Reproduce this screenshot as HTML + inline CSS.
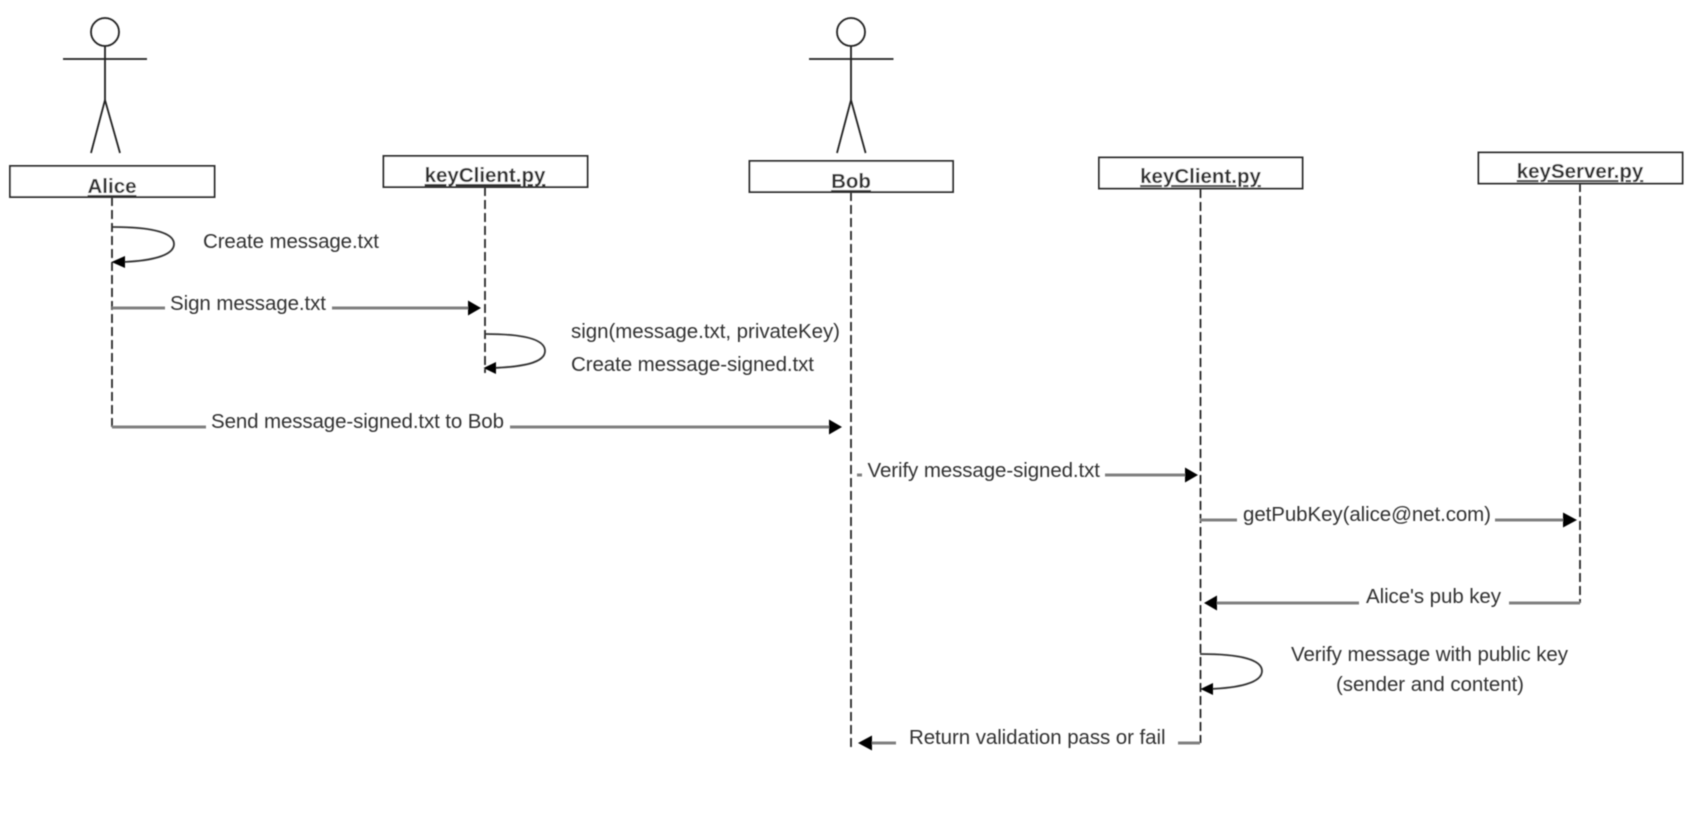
<!DOCTYPE html>
<html>
<head>
<meta charset="utf-8">
<style>
html,body{margin:0;padding:0;background:#fff;width:1705px;height:817px;overflow:hidden}
svg{display:block}
text{font-family:"Liberation Sans",sans-serif;font-size:20.5px;fill:#333}
.b{font-weight:bold;text-decoration:underline;text-anchor:middle;font-size:20.5px}
.act{fill:none;stroke:#222;stroke-width:1.8}
.box{fill:#fff;stroke:#333;stroke-width:2}
.life{stroke:#111;stroke-width:1.6;stroke-dasharray:9 4;fill:none}
.msg{stroke:#808080;stroke-width:3;fill:none}
.loop{stroke:#333;stroke-width:1.8;fill:none}
</style>
</head>
<body>
<svg width="1705" height="817" viewBox="0 0 1705 817" xmlns="http://www.w3.org/2000/svg">
<defs><filter id="s" x="-2%" y="-2%" width="104%" height="104%"><feGaussianBlur stdDeviation="0.45"/></filter></defs>
<rect width="1705" height="817" fill="#fff"/>
<g filter="url(#s)">
<!-- actors -->
<g class="act">
<circle cx="105" cy="32" r="14"/><path d="M105 46V100M63 59H147M105 100L91 153M105 100L120 153"/>
<circle cx="851" cy="32" r="14"/><path d="M851 46V100M809 59H893.500M851 100L837 153M851 100L865.600 153"/>
</g>
<!-- lifelines -->
<path class="life" d="M112 197V428"/>
<path class="life" d="M485 187V373"/>
<path class="life" d="M851 192V747"/>
<path class="life" d="M1200.500 189V743"/>
<path class="life" d="M1580 183V603"/>
<!-- boxes -->
<rect class="box" x="10" y="166" width="204.500" height="31"/>
<rect class="box" x="383.500" y="156" width="204" height="31"/>
<rect class="box" x="749.500" y="161" width="203.500" height="31"/>
<rect class="box" x="1099" y="157.500" width="203.500" height="31"/>
<rect class="box" x="1478.500" y="152.500" width="204" height="31"/>
<text class="b" x="112" y="193">Alice</text>
<text class="b" x="485" y="182">keyClient.py</text>
<text class="b" x="851" y="188">Bob</text>
<text class="b" x="1200.500" y="183">keyClient.py</text>
<text class="b" x="1580" y="178">keyServer.py</text>
<!-- self loops -->
<path class="loop" d="M112 227C150 227 174 232 174 244C174 256 150 261 122 262"/>
<path d="M111.500 262L125 256V268Z"/>
<path class="loop" d="M485 334C522 334 545 339 545 351C545 363 522 367 492 368"/>
<path d="M483.500 368L496 362V374Z"/>
<path class="loop" d="M1200 654C1238 654 1262 659 1262 671C1262 683 1238 688 1209 689"/>
<path d="M1200.500 689L1213 683V695Z"/>
<!-- messages -->
<path class="msg" d="M112 308H165M332 308H470"/>
<path d="M481 308L468 300.500V315.500Z"/>
<path class="msg" d="M112 427H206M510 427H831"/>
<path d="M842 427L829 419.500V434.500Z"/>
<path class="msg" d="M857 475H862M1105 475H1187"/>
<path d="M1198 475L1185 467.500V482.500Z"/>
<path class="msg" d="M1200 520H1237M1495 520H1565"/>
<path d="M1577 520L1563 512.500V527.500Z"/>
<path class="msg" d="M1215 603H1359M1509 603H1580"/>
<path d="M1204 603L1217 595.500V610.500Z"/>
<path class="msg" d="M870 743H896M1178 743H1200"/>
<path d="M858 743L872 735.500V750.500Z"/>
<!-- labels -->
<text x="203" y="248" textLength="176">Create message.txt</text>
<text x="170" y="310" textLength="156">Sign message.txt</text>
<text x="571" y="338" textLength="269">sign(message.txt, privateKey)</text>
<text x="571" y="371" textLength="243">Create message-signed.txt</text>
<text x="211" y="428" textLength="293">Send message-signed.txt to Bob</text>
<text x="867.500" y="477" textLength="232.500">Verify message-signed.txt</text>
<text x="1243" y="521" textLength="248">getPubKey(alice@net.com)</text>
<text x="1366" y="603" textLength="135">Alice's pub key</text>
<text x="1291" y="661" textLength="277">Verify message with public key</text>
<text x="1336" y="691" textLength="188">(sender and content)</text>
<text x="909" y="744" textLength="256.500">Return validation pass or fail</text>
</g>
</svg>
</body>
</html>
